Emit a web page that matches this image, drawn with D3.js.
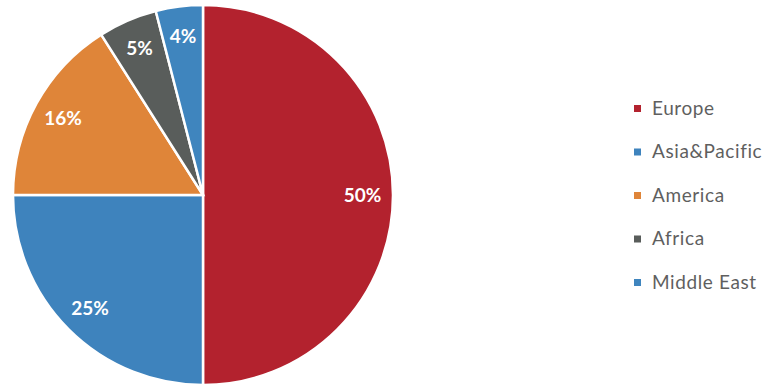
<!DOCTYPE html>
<html>
<head>
<meta charset="utf-8">
<script src="https://cdn.jsdelivr.net/npm/d3@7"></script>
<style>
  body { margin: 0; background: #fff; }
</style>
</head>
<body>
<svg width="767" height="389"></svg>
<script>
var regions = ['Europe', 'Asia&Pacific', 'America', 'Africa', 'Middle East']
var shares = [50, 25, 16, 5, 4]
var colors = ['#b3222e', '#3e83bd', '#df8539', '#595d5b', '#3f85be']

var svg = d3.select('svg')
var cx = 203, cy = 195, radius = 190

var data = regions.map(function (r, i) { return { region: r, value: shares[i], color: colors[i] } })

var pie = d3.pie().sort(null).value(function (d) { return d.value })
var arc = d3.arc().innerRadius(0).outerRadius(radius)
var labelArc = d3.arc().innerRadius(radius * 0.84).outerRadius(radius * 0.84)

var g = svg.append('g').attr('transform', 'translate(' + cx + ',' + cy + ')')

var arcs = pie(data)

g.selectAll('path')
  .data(arcs)
  .enter().append('path')
  .attr('d', arc)
  .attr('fill', function (d) { return d.data.color })
  .attr('stroke', '#fff')
  .attr('stroke-width', 2.5)

g.selectAll('text')
  .data(arcs)
  .enter().append('text')
  .attr('transform', function (d) { return 'translate(' + labelArc.centroid(d) + ')' })
  .attr('text-anchor', 'middle')
  .attr('dy', '0.35em')
  .attr('fill', '#fff')
  .attr('font-family', 'Lato, "Open Sans", sans-serif')
  .attr('font-weight', 'bold')
  .attr('font-size', 19)
  .text(function (d) { return d.data.value + '%' })

// legend
var y = d3.scalePoint().domain(regions).range([108, 282])
var legend = svg.append('g')
  .selectAll('g')
  .data(data)
  .enter().append('g')
  .attr('transform', function (d) { return 'translate(637,' + y(d.region) + ')' })

legend.append('rect')
  .attr('x', -3).attr('y', -3)
  .attr('width', 7).attr('height', 7)
  .attr('fill', function (d) { return d.color })

legend.append('text')
  .attr('x', 15)
  .attr('dy', '0.35em')
  .attr('fill', '#5f5f5f')
  .attr('font-family', 'Lato, "Open Sans", sans-serif')
  .attr('font-size', 19)
  .attr('letter-spacing', 0.6)
  .text(function (d) { return d.region })
</script>
</body>
</html>
